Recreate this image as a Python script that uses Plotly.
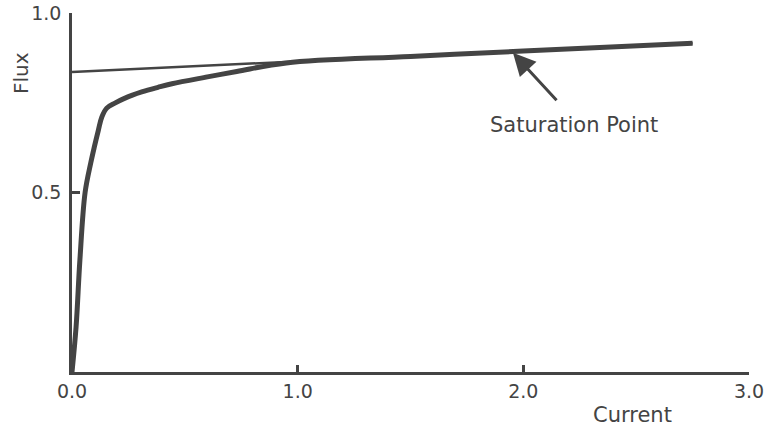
import plotly.graph_objects as go

# Magnetization curve (Current vs Flux)
curve_x = [0, 0.018, 0.035, 0.058, 0.083, 0.099, 0.117, 0.132, 0.154, 0.19, 0.235, 0.309, 0.381, 0.443, 0.6, 0.73, 0.95, 1.5, 2.0, 2.75]
curve_y = [0, 0.125, 0.312, 0.5, 0.582, 0.627, 0.674, 0.71, 0.735, 0.749, 0.763, 0.780, 0.793, 0.803, 0.822, 0.837, 0.861, 0.879, 0.894, 0.916]

# Tangent (asymptote) line
tangent_x = [0, 2.75]
tangent_y = [0.836, 0.916]

x_ticks = [0, 1, 2, 3]
x_tick_labels = ["0.0", "1.0", "2.0", "3.0"]
y_ticks = [0.5, 1.0]
y_tick_labels = ["0.5", "1.0"]

sat_point = (1.954, 0.889)
sat_label = "Saturation Point"

INK = "#444444"
FONT = "DejaVu Sans"

L, R, T, B = 72, 17, 13, 55
W, H = 766, 427
PW, PH = W - L - R, H - T - B


def px(xp):
    return (xp - L) / PW


def py(yp):
    return (H - B - yp) / PH


fig = go.Figure()
fig.add_trace(go.Scatter(x=tangent_x, y=tangent_y, mode="lines",
                         line=dict(color=INK, width=2.5), showlegend=False))
fig.add_trace(go.Scatter(x=curve_x, y=curve_y, mode="lines",
                         line=dict(color=INK, width=5, shape="spline", smoothing=1.0),
                         showlegend=False))

fig.add_annotation(x=sat_point[0], y=sat_point[1], xref="x", yref="y",
                   ax=45, ay=49, axref="pixel", ayref="pixel",
                   showarrow=True, arrowhead=2, arrowsize=1.5, arrowwidth=3,
                   arrowcolor=INK, text="")
fig.add_annotation(x=px(574), y=py(125), xref="paper", yref="paper", text=sat_label,
                   xanchor="center", yanchor="middle",
                   showarrow=False, font=dict(family=FONT, size=21, color=INK))
fig.add_annotation(x=px(632), y=py(415), xref="paper", yref="paper",
                   xanchor="center", yanchor="middle",
                   text="Current", showarrow=False,
                   font=dict(family=FONT, size=21, color=INK))
fig.add_annotation(x=px(21), y=py(73), xref="paper", yref="paper",
                   xanchor="center", yanchor="middle",
                   text="Flux", textangle=-90, showarrow=False,
                   font=dict(family=FONT, size=20, color=INK))

fig.update_layout(
    width=W, height=H,
    margin=dict(l=L, r=R, t=T, b=B),
    paper_bgcolor="white", plot_bgcolor="white",
    font=dict(family=FONT, size=19, color=INK),
    xaxis=dict(range=[0, 3], tickvals=x_ticks, ticktext=x_tick_labels,
               ticks="inside", ticklen=7, tickwidth=3, tickcolor=INK,
               showline=True, linewidth=3, linecolor=INK, automargin=False,
               showgrid=False, zeroline=False, ticklabelstandoff=0),
    yaxis=dict(range=[0, 1.0], tickvals=y_ticks, ticktext=y_tick_labels,
               ticks="inside", ticklen=8, tickwidth=3, tickcolor=INK,
               showline=True, linewidth=2.5, linecolor=INK, automargin=False,
               showgrid=False, zeroline=False, ticklabelstandoff=4),
)

fig.write_html("out.html", config={"displayModeBar": False},
               post_script="document.body.style.margin='0px';")
